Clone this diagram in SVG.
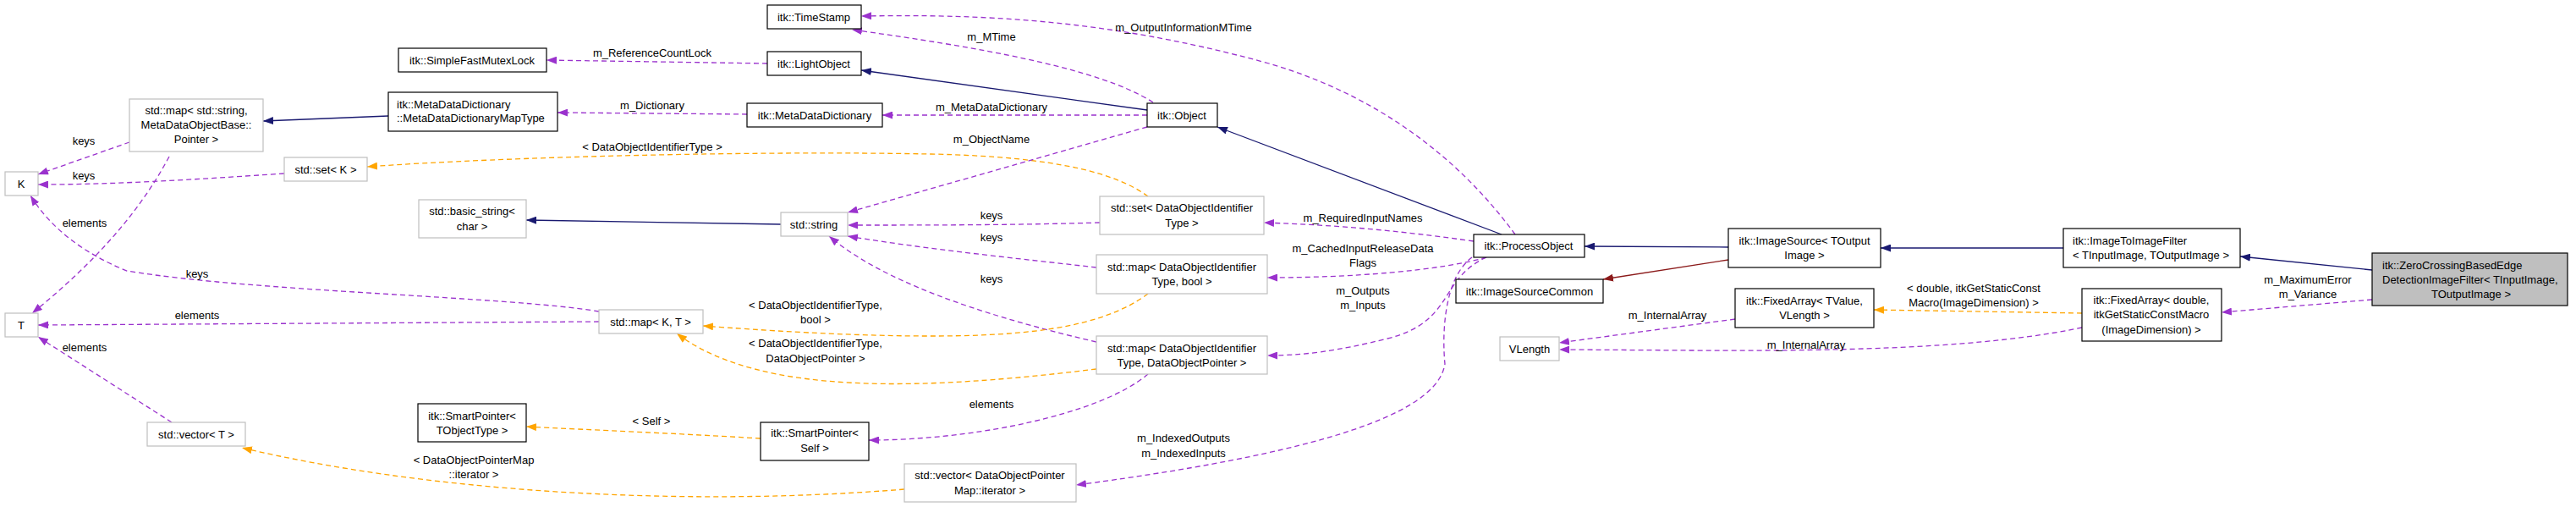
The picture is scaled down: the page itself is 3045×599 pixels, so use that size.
<svg xmlns="http://www.w3.org/2000/svg" width="3045" height="599" viewBox="0 0 3045 599">
<style>
text{font-family:"Liberation Sans",Arial,sans-serif;font-size:13px;fill:#000;text-anchor:middle;dominant-baseline:central}
.l{text-anchor:start}
.n rect{fill:#fff;stroke:#000;stroke-width:1.2}
.g rect{fill:#fff;stroke:#bfbfbf;stroke-width:1.2}
.e path{fill:none;stroke-width:1.3}
.nav{stroke:#191970;marker-end:url(#an)}
.pur{stroke:#9a32cd;stroke-dasharray:6,4;marker-end:url(#ap)}
.org{stroke:#ffa500;stroke-dasharray:6,4;marker-end:url(#ao)}
.red{stroke:#8b1a1a;marker-end:url(#ar)}
</style>
<defs>
<marker id="an" markerUnits="userSpaceOnUse" markerWidth="12" markerHeight="9" refX="12" refY="4.5" orient="auto"><path d="M0,0L12,4.5L0,9z" fill="#191970"/></marker>
<marker id="ap" markerUnits="userSpaceOnUse" markerWidth="12" markerHeight="9" refX="12" refY="4.5" orient="auto"><path d="M0,0L12,4.5L0,9z" fill="#9a32cd"/></marker>
<marker id="ao" markerUnits="userSpaceOnUse" markerWidth="12" markerHeight="9" refX="12" refY="4.5" orient="auto"><path d="M0,0L12,4.5L0,9z" fill="#ffa500"/></marker>
<marker id="ar" markerUnits="userSpaceOnUse" markerWidth="12" markerHeight="9" refX="12" refY="4.5" orient="auto"><path d="M0,0L12,4.5L0,9z" fill="#8b1a1a"/></marker>
</defs>
<rect width="3045" height="599" fill="#fff"/>
<g id="edges" class="e">
<path class="pur" d="M907,75 L646,71"/>
<path class="nav" d="M1356,130 L1018,83"/>
<path class="pur" d="M1363,121 C1300,80 1150,55 1007,35"/>
<path class="pur" d="M1791,277 C1720,180 1620,110 1500,75 C1300,20 1150,17 1018,19"/>
<path class="pur" d="M1356,136 L1043,136"/>
<path class="pur" d="M883,135 L659,133"/>
<path class="nav" d="M459,137 L311,143"/>
<path class="pur" d="M153,168 L45,206"/>
<path class="pur" d="M200,185 C160,260 100,320 38,370"/>
<path class="pur" d="M336,205 C230,212 140,218 45,218"/>
<path class="org" d="M1357,232 C1320,205 1250,185 1100,182 C900,178 600,185 434,197"/>
<path class="pur" d="M1356,150 L1002,251"/>
<path class="nav" d="M923,265 L622,260"/>
<path class="pur" d="M1300,263 C1200,266 1100,266 1002,266"/>
<path class="pur" d="M1296,316 C1200,305 1100,295 1002,279"/>
<path class="pur" d="M1296,404 C1150,370 1040,330 980,279"/>
<path class="org" d="M1357,347 C1300,390 1200,397 1100,397 C1000,397 900,390 831,385"/>
<path class="org" d="M1296,436 C1100,460 900,470 800,394"/>
<path class="pur" d="M708,368 C600,350 300,345 150,320 C100,300 60,270 36,231"/>
<path class="pur" d="M708,380 L45,384"/>
<path class="pur" d="M203,499 L45,398"/>
<path class="org" d="M899,518 C800,512 700,508 622,504"/>
<path class="pur" d="M1357,442 C1300,490 1150,520 1027,520"/>
<path class="org" d="M1069,578 C800,600 500,580 286,529"/>
<path class="pur" d="M1740,304 C1705,330 1705,400 1708,430 C1700,480 1600,530 1272,573"/>
<path class="pur" d="M1757,304 C1700,330 1720,380 1640,400 C1580,415 1540,420 1498,420"/>
<path class="pur" d="M1757,304 C1700,320 1600,328 1498,328"/>
<path class="pur" d="M1742,285 C1650,272 1580,266 1494,263"/>
<path class="nav" d="M1775,277 L1439,150"/>
<path class="nav" d="M2043,292 L1873,291"/>
<path class="red" d="M2043,307 L1895,330"/>
<path class="nav" d="M2439,293 L2223,293"/>
<path class="nav" d="M2804,319 L2648,303"/>
<path class="pur" d="M2804,354 L2626,369"/>
<path class="org" d="M2461,370 L2215,366"/>
<path class="pur" d="M2461,387 C2350,410 2200,415 2000,414 L1843,413"/>
<path class="pur" d="M2051,377 L1843,405"/>
</g>
<g id="edge-labels">
<text x="771" y="62">m_ReferenceCountLock</text>
<text x="771" y="124">m_Dictionary</text>
<text x="1172" y="43">m_MTime</text>
<text x="1399" y="32">m_OutputInformationMTime</text>
<text x="1172" y="126">m_MetaDataDictionary</text>
<text x="1172" y="164">m_ObjectName</text>
<text x="771" y="173">&lt; DataObjectIdentifierType &gt;</text>
<text x="99" y="166">keys</text>
<text x="99" y="207">keys</text>
<text x="100" y="263">elements</text>
<text x="1172" y="254">keys</text>
<text x="1172" y="280">keys</text>
<text x="1172" y="329">keys</text>
<text x="233" y="323">keys</text>
<text x="233" y="372">elements</text>
<text x="100" y="410">elements</text>
<text x="964" y="360">&lt; DataObjectIdentifierType,</text>
<text x="964" y="377">bool &gt;</text>
<text x="964" y="405">&lt; DataObjectIdentifierType,</text>
<text x="964" y="423">DataObjectPointer &gt;</text>
<text x="1172" y="477">elements</text>
<text x="770" y="497">&lt; Self &gt;</text>
<text x="560" y="543">&lt; DataObjectPointerMap</text>
<text x="560" y="560">::iterator &gt;</text>
<text x="1399" y="517">m_IndexedOutputs</text>
<text x="1399" y="535">m_IndexedInputs</text>
<text x="1611" y="257">m_RequiredInputNames</text>
<text x="1611" y="293">m_CachedInputReleaseData</text>
<text x="1611" y="310">Flags</text>
<text x="1611" y="343">m_Outputs</text>
<text x="1611" y="360">m_Inputs</text>
<text x="1971" y="372">m_InternalArray</text>
<text x="2135" y="407">m_InternalArray</text>
<text x="2728" y="330">m_MaximumError</text>
<text x="2728" y="347">m_Variance</text>
<text x="2333" y="340">&lt; double, itkGetStaticConst</text>
<text x="2333" y="357">Macro(ImageDimension) &gt;</text>
</g>
<g id="n-mutex" class="n"><rect x="471" y="57" width="175" height="28"/><text x="558" y="71">itk::SimpleFastMutexLock</text></g>
<g id="n-mapstr" class="g"><rect x="153" y="117" width="158" height="62"/><text x="232" y="130">std::map&lt; std::string,</text><text x="232" y="147">MetaDataObjectBase::</text><text x="232" y="164">Pointer &gt;</text></g>
<g id="n-mddmap" class="n"><rect x="459" y="109" width="200" height="46"/><text class="l" x="469" y="123">itk::MetaDataDictionary</text><text class="l" x="469" y="139">::MetaDataDictionaryMapType</text></g>
<g id="n-setk" class="g"><rect x="336" y="186" width="98" height="28"/><text x="385" y="200">std::set&lt; K &gt;</text></g>
<g id="n-k" class="g"><rect x="6" y="203" width="39" height="28"/><text x="25" y="217">K</text></g>
<g id="n-bstr" class="g"><rect x="495" y="236" width="127" height="45"/><text x="558" y="249">std::basic_string&lt;</text><text x="558" y="267">char &gt;</text></g>
<g id="n-t" class="g"><rect x="6" y="370" width="39" height="28"/><text x="25" y="384">T</text></g>
<g id="n-vect" class="g"><rect x="174" y="499" width="116" height="28"/><text x="232" y="513">std::vector&lt; T &gt;</text></g>
<g id="n-spt" class="n"><rect x="494" y="477" width="128" height="45"/><text x="558" y="491">itk::SmartPointer&lt;</text><text x="558" y="508">TObjectType &gt;</text></g>
<g id="n-mapkt" class="g"><rect x="708" y="366" width="123" height="28"/><text x="769" y="380">std::map&lt; K, T &gt;</text></g>
<g id="n-ts" class="n"><rect x="907" y="6" width="111" height="28"/><text x="962" y="20">itk::TimeStamp</text></g>
<g id="n-lo" class="n"><rect x="907" y="61" width="111" height="28"/><text x="962" y="75">itk::LightObject</text></g>
<g id="n-mdd" class="n"><rect x="883" y="122" width="160" height="28"/><text x="963" y="136">itk::MetaDataDictionary</text></g>
<g id="n-obj" class="n"><rect x="1356" y="122" width="83" height="28"/><text x="1397" y="136">itk::Object</text></g>
<g id="n-setdoit" class="g"><rect x="1300" y="232" width="194" height="45"/><text x="1397" y="245">std::set&lt; DataObjectIdentifier</text><text x="1397" y="263">Type &gt;</text></g>
<g id="n-str" class="g"><rect x="923" y="251" width="79" height="28"/><text x="962" y="265">std::string</text></g>
<g id="n-mapbool" class="g"><rect x="1296" y="301" width="202" height="46"/><text x="1397" y="315">std::map&lt; DataObjectIdentifier</text><text x="1397" y="332">Type, bool &gt;</text></g>
<g id="n-mapdop" class="g"><rect x="1296" y="397" width="202" height="45"/><text x="1397" y="411">std::map&lt; DataObjectIdentifier</text><text x="1397" y="428">Type, DataObjectPointer &gt;</text></g>
<g id="n-sps" class="n"><rect x="899" y="499" width="128" height="45"/><text x="963" y="511">itk::SmartPointer&lt;</text><text x="963" y="529">Self &gt;</text></g>
<g id="n-vecdop" class="g"><rect x="1069" y="548" width="203" height="45"/><text x="1170" y="561">std::vector&lt; DataObjectPointer</text><text x="1170" y="579">Map::iterator &gt;</text></g>
<g id="n-po" class="n"><rect x="1742" y="277" width="131" height="27"/><text x="1807" y="290">itk::ProcessObject</text></g>
<g id="n-isc" class="n"><rect x="1721" y="330" width="174" height="28"/><text x="1808" y="344">itk::ImageSourceCommon</text></g>
<g id="n-is" class="n"><rect x="2043" y="270" width="180" height="46"/><text x="2133" y="284">itk::ImageSource&lt; TOutput</text><text x="2133" y="301">Image &gt;</text></g>
<g id="n-fatv" class="n"><rect x="2051" y="341" width="164" height="46"/><text x="2133" y="355">itk::FixedArray&lt; TValue,</text><text x="2133" y="372">VLength &gt;</text></g>
<g id="n-vl" class="g"><rect x="1773" y="398" width="70" height="28"/><text x="1808" y="412">VLength</text></g>
<g id="n-itif" class="n"><rect x="2439" y="270" width="209" height="46"/><text class="l" x="2450" y="284">itk::ImageToImageFilter</text><text class="l" x="2450" y="301">&lt; TInputImage, TOutputImage &gt;</text></g>
<g id="n-fad" class="n"><rect x="2461" y="341" width="165" height="62"/><text x="2543" y="354">itk::FixedArray&lt; double,</text><text x="2543" y="371">itkGetStaticConstMacro</text><text x="2543" y="389">(ImageDimension) &gt;</text></g>
<g id="n-zc" class="n"><rect x="2804" y="299" width="231" height="62" style="fill:#bfbfbf"/><text class="l" x="2816" y="313">itk::ZeroCrossingBasedEdge</text><text class="l" x="2816" y="330">DetectionImageFilter&lt; TInputImage,</text><text x="2921" y="347">TOutputImage &gt;</text></g>
</svg>
